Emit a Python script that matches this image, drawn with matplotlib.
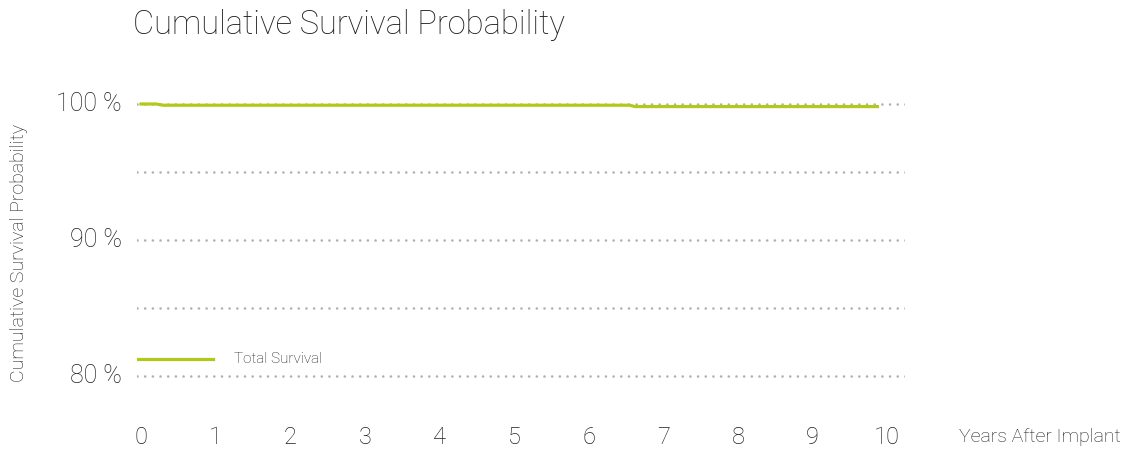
import matplotlib
matplotlib.use("Agg")
import matplotlib.pyplot as plt
from matplotlib import font_manager

# Kaplan-Meier style survival curve (years, percent)
years = [0.0, 0.2, 0.3, 6.55, 6.62, 9.87]
survival = [100.0, 100.0, 99.91, 99.91, 99.81, 99.81]

x_ticks = [0, 1, 2, 3, 4, 5, 6, 7, 8, 9, 10]
y_ticks = [80, 90, 100]
grid_levels = [80, 85, 90, 95, 100]

series_label = "Total Survival"
title_text = "Cumulative Survival Probability"
y_label_text = "Cumulative Survival Probability"
x_label_text = "Years After Implant"

green = "#b3c91a"
grid_gray = "#b0b0b0"
text_dark = "#1e1e1e"

names = {f.name for f in font_manager.fontManager.ttflist}
family = "Roboto" if "Roboto" in names else "DejaVu Sans"
plt.rcParams["font.family"] = [family, "DejaVu Sans"]
plt.rcParams["font.weight"] = "light"

W, H = 1129, 451
fig = plt.figure(figsize=(W / 100, H / 100), dpi=100)
ax = fig.add_axes([137 / W, 1 - 400 / H, (905 - 137) / W, (400 - 80) / H])

x0, x1 = -0.054, 10.24
ax.set_xlim(x0, x1)
# 80% at y=376px, 100% at y=104px
ppp = (376 - 104) / 20
ax.set_ylim(80 - (400 - 376) / ppp, 100 + (104 - 80) / ppp)

for lvl in grid_levels:
    ax.plot([x0, x1], [lvl, lvl], color=grid_gray, lw=1.9, linestyle=(0, (0.01, 2.9)),
            dash_capstyle="round", zorder=1)

ax.plot(years, survival, color=green, lw=2.3, solid_joinstyle="round", zorder=3)

# legend entry
ax.plot([-0.054, 0.97], [81.25, 81.25], color=green, lw=2.3, zorder=3)
ax.text(1.25, 81.25, series_label, fontsize=11, color=text_dark, va="center", ha="left")

for s in ax.spines.values():
    s.set_visible(False)
ax.set_xticks([])
ax.set_yticks([])

trans_y = ax.get_yaxis_transform()
for v in y_ticks:
    ax.text(-0.02, v, f"{v} %", transform=trans_y, ha="right",
            va="center", fontsize=18, color=text_dark)

y_tick_row = 1 - 437 / H
for v in x_ticks:
    xf = (137 + (v - x0) / (x1 - x0) * (905 - 137)) / W
    fig.text(xf, y_tick_row, str(v), ha="center", va="center",
             fontsize=17, color=text_dark)

fig.text(1121 / W, y_tick_row, x_label_text, ha="right", va="center",
         fontsize=14, color=text_dark)
fig.text(19 / W, 1 - 253 / H, y_label_text, rotation=90, ha="center",
         va="center", fontsize=14, color=text_dark)
fig.text(133 / W, 1 - 25 / H, title_text, ha="left", va="center",
         fontsize=23.5, color=text_dark)

fig.savefig("out.png", dpi=100)
